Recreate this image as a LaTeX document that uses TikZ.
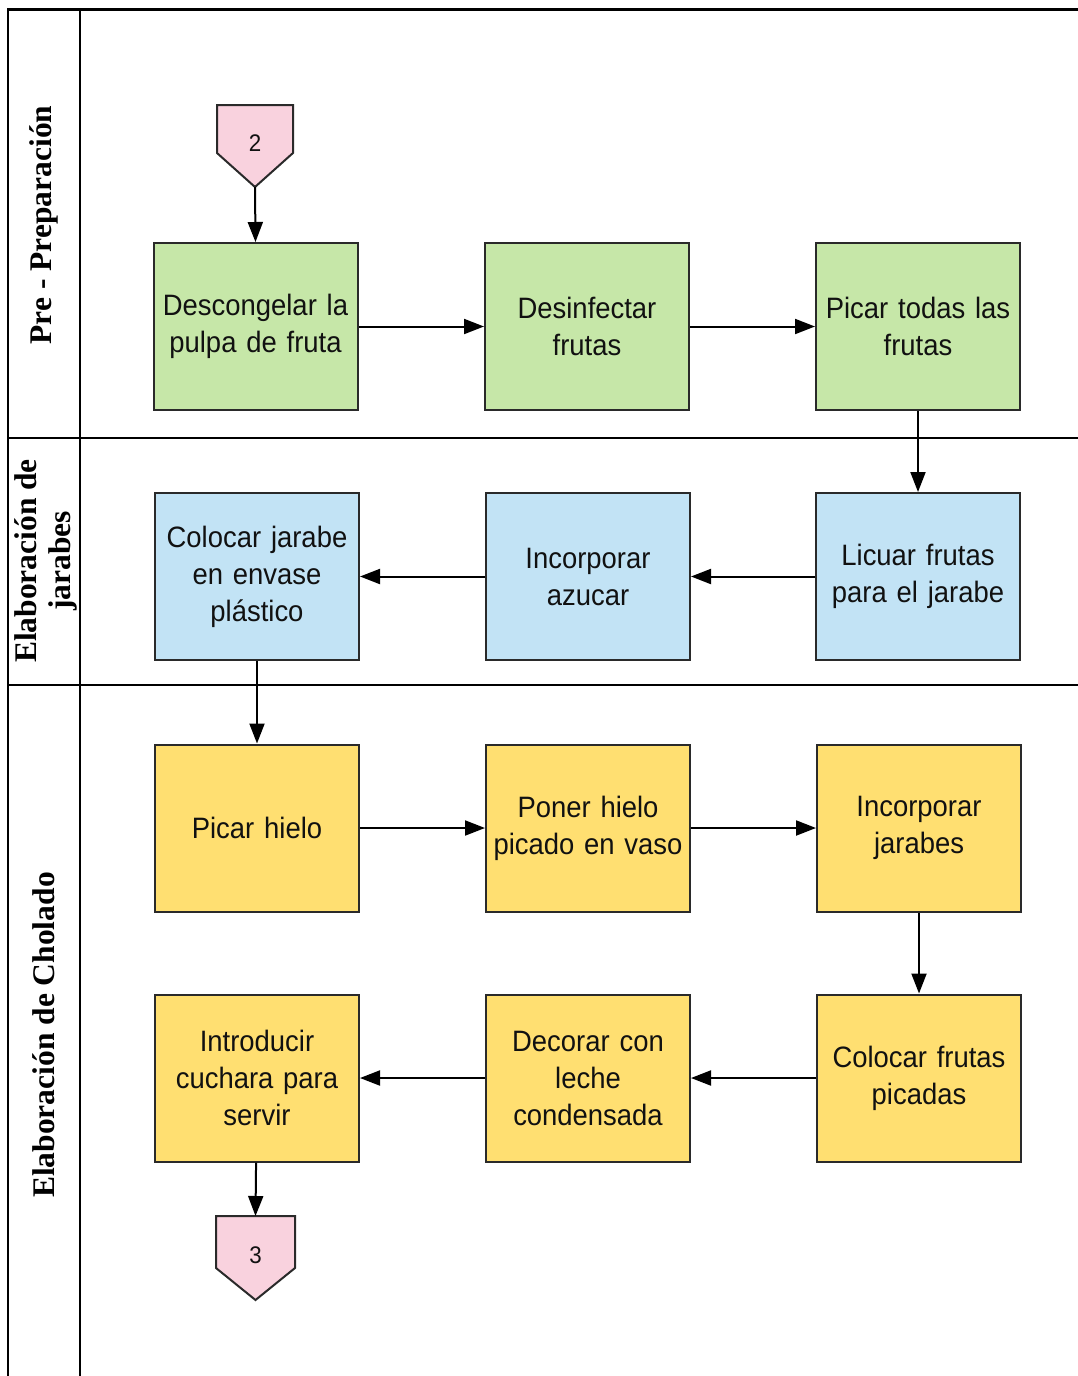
\documentclass[tikz,border=0pt]{standalone}
\usepackage{fontspec}
\setmainfont{Liberation Sans}
\newfontfamily\boxfont[FakeStretch=0.93]{Liberation Sans}
\newfontfamily\lanefont{Liberation Serif}
\usetikzlibrary{arrows.meta}
\definecolor{boxgreen}{HTML}{C6E7A8}
\definecolor{boxblue}{HTML}{C2E3F5}
\definecolor{boxyellow}{HTML}{FFDF71}
\definecolor{boxpink}{HTML}{F9D2DE}
\definecolor{boxedge}{HTML}{2A2A2A}
\definecolor{boxtext}{HTML}{111111}
\tikzset{
  procbox/.style={draw=boxedge, line width=2pt, minimum width=204pt, minimum height=167pt,
    align=center, font=\boxfont\fontsize{29.5}{37}\selectfont, text=boxtext, inner sep=2pt, text width=200pt},
  gbox/.style={procbox, fill=boxgreen},
  bbox/.style={procbox, fill=boxblue},
  ybox/.style={procbox, fill=boxyellow},
  flow/.style={line width=2pt, -{Triangle[length=20pt,width=15pt]}},
  lanetxt/.style={rotate=90, font=\lanefont\bfseries\fontsize{31.5}{34}\selectfont, align=center},
  laneline/.style={line width=1.5pt},
  conn/.style={draw=boxedge, line width=2pt, fill=boxpink},
  conntxt/.style={font=\boxfont\fontsize{24}{26}\selectfont, text=boxtext}
}
\begin{document}
\begin{tikzpicture}[x=1pt,y=-1pt]
\useasboundingbox (0,0) rectangle (1078,1376);
% lane grid
\draw[line width=3pt] (8,9.5) -- (1078,9.5);
\draw[laneline] (8,8) -- (8,1376);
\draw[laneline] (80,8) -- (80,1376);
\draw[laneline] (8,438) -- (1078,438);
\draw[laneline] (8,685) -- (1078,685);
\node[lanetxt] (l1) at (44,225) {Pre - Preparación};
\node[lanetxt] (l2) at (46,561) {Elaboración de\\jarabes};
\node[lanetxt] (l3) at (44,1035) {Elaboración de Cholado};
% off-page connectors
\draw[conn] (217,105) -- (293,105) -- (293,153) -- (255,187) -- (217,153) -- cycle;
\node[conntxt] (c2) at (255,143) {2};
\coordinate (c2tip) at (255,187);
\draw[conn] (216,1216) -- (295,1216) -- (295,1268) -- (255.5,1300) -- (216,1268) -- cycle;
\node[conntxt] (c3) at (255.5,1255) {3};
\coordinate (c3top) at (255.5,1216);
% row 1
\node[gbox] (a1) at (255.5,326.5) {Descongelar la\\pulpa de fruta};
\node[gbox] (a2) at (587,326.5) {Desinfectar\\frutas};
\node[gbox] (a3) at (918,326.5) {Picar todas las\\frutas};
% row 2
\node[bbox] (b3) at (918,576.5) {Licuar frutas\\para el jarabe};
\node[bbox] (b2) at (588,576.5) {Incorporar\\azucar};
\node[bbox] (b1) at (257,576.5) {Colocar jarabe\\en envase\\plástico};
% row 3
\node[ybox] (d1) at (257,828) {Picar hielo};
\node[ybox] (d2) at (588,828) {Poner hielo\\picado en vaso};
\node[ybox] (d3) at (919,828) {Incorporar\\jarabes};
% row 4
\node[ybox] (e3) at (919,1078) {Colocar frutas\\picadas};
\node[ybox] (e2) at (588,1078) {Decorar con\\leche\\condensada};
\node[ybox] (e1) at (257,1078) {Introducir\\cuchara para\\servir};
% arrows
\draw[flow] (c2tip) -- (a1.north);
\draw[flow] (a1) -- (a2);
\draw[flow] (a2) -- (a3);
\draw[flow] (a3) -- (b3);
\draw[flow] (b3) -- (b2);
\draw[flow] (b2) -- (b1);
\draw[flow] (b1) -- (d1);
\draw[flow] (d1) -- (d2);
\draw[flow] (d2) -- (d3);
\draw[flow] (d3) -- (e3);
\draw[flow] (e3) -- (e2);
\draw[flow] (e2) -- (e1);
\draw[flow] (e1) -- (c3top);
\end{tikzpicture}
\end{document}
